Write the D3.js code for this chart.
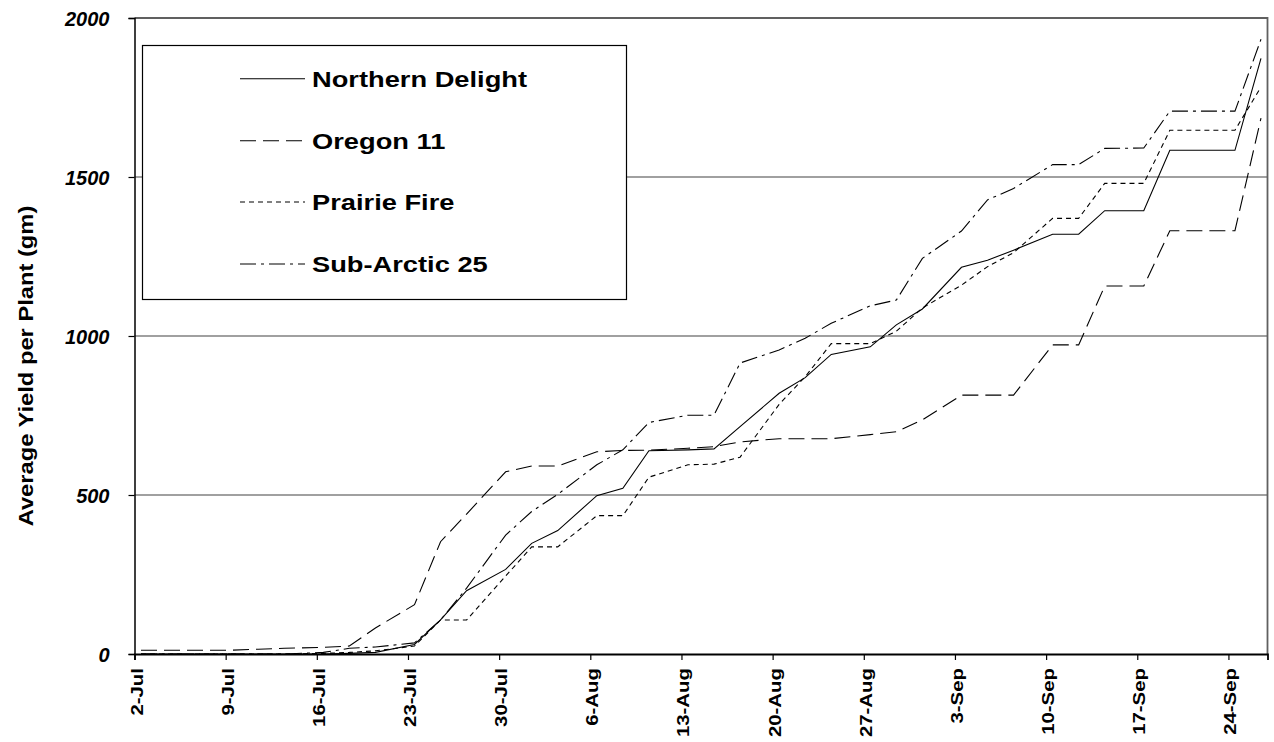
<!DOCTYPE html>
<html>
<head>
<meta charset="utf-8">
<script src="https://cdn.jsdelivr.net/npm/d3@7"></script>
<style>
  html, body { margin: 0; padding: 0; background: #fff; }
  svg { display: block; }
  text { font-family: "Liberation Sans", Arial, sans-serif; font-weight: bold; fill: #000; }
</style>
</head>
<body>
<svg id="chart" width="1274" height="742"></svg>
<script>
// ---------- DATA ----------
const dates = ["2001-07-02","2001-07-04","2001-07-06","2001-07-09","2001-07-11","2001-07-13",
  "2001-07-16","2001-07-18","2001-07-20","2001-07-23","2001-07-25","2001-07-27",
  "2001-07-30","2001-08-01","2001-08-03","2001-08-06","2001-08-08","2001-08-10",
  "2001-08-13","2001-08-15","2001-08-17","2001-08-20","2001-08-22","2001-08-24",
  "2001-08-27","2001-08-29","2001-08-31","2001-09-03","2001-09-05","2001-09-07",
  "2001-09-10","2001-09-12","2001-09-14","2001-09-17","2001-09-19","2001-09-21",
  "2001-09-24","2001-09-26"];

const northernDelight = [0,0,0,0,0,0,0,2,5,30,107,199,266,348,388,498,521,639,642,645,715,820,869,942,966,1035,1085,1216,1238,1270,1320,1320,1394,1394,1584,1584,1584,1873];
const oregon11        = [12,12,12,12,15,18,21,25,82,155,353,440,573,591,591,636,640,641,647,652,667,677,677,677,690,699,736,814,814,814,972,972,1157,1157,1331,1331,1331,1685];
const prairieFire     = [0,0,0,0,0,0,2,5,10,25,107,107,245,337,337,435,435,556,595,597,619,785,872,976,976,1015,1088,1160,1218,1262,1370,1370,1480,1480,1647,1647,1647,1783];
const subArctic25     = [0,0,0,0,0,0,5,18,22,35,107,207,374,448,502,595,642,728,751,751,915,956,993,1040,1095,1113,1244,1330,1428,1464,1539,1539,1590,1591,1707,1707,1707,1933];

const seriesNames = ["Northern Delight","Oregon 11","Prairie Fire","Sub-Arctic 25"];
const seriesValues = [northernDelight, oregon11, prairieFire, subArctic25];

const xTickLabels = ["2-Jul","9-Jul","16-Jul","23-Jul","30-Jul","6-Aug","13-Aug","20-Aug","27-Aug","3-Sep","10-Sep","17-Sep","24-Sep"];
const yTickValues = [0,500,1000,1500,2000];
const yTitle = "Average Yield per Plant (gm)";
const axisStart = "2001-07-02";
const axisEnd = "2001-09-27";

// ---------- LAYOUT ----------
const L = 134.5, R = 1267.5, T = 18, B = 654;
const dashes = ["none", "16,7", "5,4", "16,5,3,5"];

const parse = d3.utcParse("%Y-%m-%d");
const svg = d3.select("#chart");

const x = d3.scaleUtc().domain([parse(axisStart), parse(axisEnd)]).range([L, R]);
const y = d3.scaleLinear().domain([0, 2000]).range([B, T]);
const half = 12 * 3600 * 1000; // points centred in their day slot

// gridlines
svg.append("g").selectAll("line").data(yTickValues.filter(v => v > 0 && v < 2000)).join("line")
  .attr("x1", L).attr("x2", R).attr("y1", d => y(d)).attr("y2", d => y(d))
  .attr("stroke", "#808080").attr("stroke-width", 1.6);

// frame: top & right (gray)
svg.append("path").attr("d", `M${L},${T}H${R}V${B}`)
  .attr("fill", "none").attr("stroke", "#606060").attr("stroke-width", 1.8);

// y axis
const yAxis = d3.axisLeft(y).tickValues(yTickValues).tickSize(6).tickFormat(d3.format("d"));
const gy = svg.append("g").attr("transform", `translate(${L},0)`).call(yAxis);
gy.select(".domain").attr("stroke", "#000").attr("stroke-width", 1.5);
gy.selectAll(".tick line").attr("stroke", "#000").attr("stroke-width", 1.2);
gy.selectAll(".tick text")
  .attr("x", -25).attr("dy", "0.36em")
  .style("font-size", "20px").style("font-style", "italic").style("font-weight", "bold")
  .attr("fill", "#000").attr("font-family", null);

// x axis
const tickDates = xTickLabels.map((_, i) => d3.utcDay.offset(parse(axisStart), 7 * i));
const xAxis = d3.axisBottom(x).tickValues(tickDates).tickSize(6).tickFormat((d, i) => xTickLabels[i]);
const gx = svg.append("g").attr("transform", `translate(0,${B})`).call(xAxis);
gx.select(".domain").attr("stroke", "#000").attr("stroke-width", 1.8);
gx.selectAll(".tick line").attr("stroke", "#000").attr("stroke-width", 1.2);
gx.selectAll(".tick text")
  .attr("y", null).attr("dy", null)
  .attr("text-anchor", "end")
  .attr("transform", "translate(7.5,14) rotate(-90) scale(1.2,1)")
  .style("font-size", "17px").attr("fill", "#000").attr("font-family", null);

// y title
svg.append("text")
  .attr("transform", "translate(33,366) rotate(-90) scale(1.13,1)")
  .attr("text-anchor", "middle")
  .style("font-size", "21px")
  .text(yTitle);

// lines
const line = d3.line()
  .x((d, i) => x(new Date(parse(dates[i]).getTime() + half)))
  .y(d => y(d));

svg.append("g").selectAll("path").data(seriesValues).join("path")
  .attr("d", d => line(d))
  .attr("fill", "none").attr("stroke", "#000").attr("stroke-width", 1.1)
  .attr("stroke-dasharray", (d, i) => dashes[i]);

// legend
const lg = svg.append("g");
lg.append("rect").attr("x", 142.5).attr("y", 45.5).attr("width", 484).attr("height", 254)
  .attr("fill", "#fff").attr("stroke", "#000").attr("stroke-width", 1.2);
const rowY = [78.7, 140.7, 202, 264];
seriesNames.forEach((name, i) => {
  lg.append("line").attr("x1", 240).attr("x2", 305).attr("y1", rowY[i]).attr("y2", rowY[i])
    .attr("stroke", "#000").attr("stroke-width", 1.1).attr("stroke-dasharray", dashes[i]);
  lg.append("text").attr("x", 0).attr("y", 0)
    .attr("transform", `translate(312,${rowY[i] + 8}) scale(1.24,1)`)
    .style("font-size", "22px").text(name);
});
</script>
</body>
</html>
